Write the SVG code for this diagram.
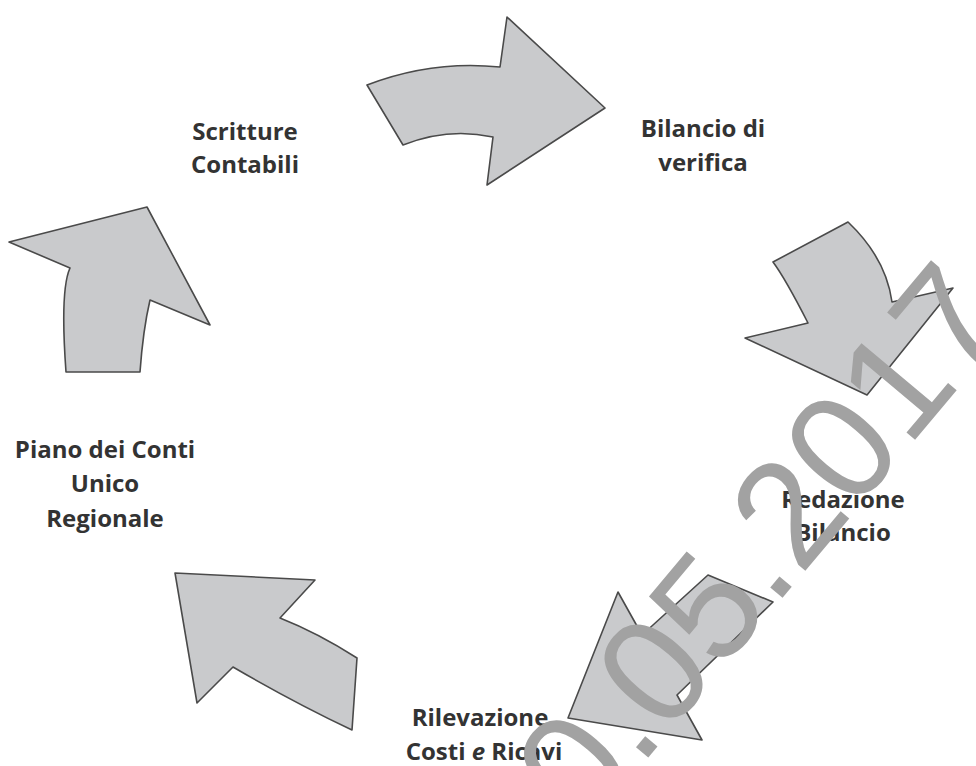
<svg xmlns="http://www.w3.org/2000/svg" width="976" height="766" viewBox="0 0 976 766">
  <style>
    .arrow { fill: #c9cacc; stroke: #4a4a4a; stroke-width: 1.6; stroke-linejoin: round; }
    .label { font-family: "Open Sans", "Noto Sans", sans-serif; font-weight: 700; font-size: 24px; fill: #333333; text-anchor: middle; }
    .stamp { font-family: "Liberation Sans", Arial, sans-serif; font-size: 150px; fill: #a2a2a2; }
  </style>
  <rect width="976" height="766" fill="#ffffff"/>

  <!-- curved cycle arrows -->
  <g id="connectors">
    <path id="arrow-top" class="arrow" d="M367,85 Q432,60 500,67 L507,17 L605,108 L487,185 L493,137 Q448,127 403,145 Z"/>
    <path id="arrow-right" class="arrow" d="M773,262 L848,222 Q886,258 892,302 L953,288 L867,395 L745,338 L808,323 Q785,278 773,262 Z"/>
    <path id="arrow-lower-right" class="arrow" d="M708,575 L773,602 L677,695 L702,740 L568,718 L618,592 L642,635 Z"/>
    <path id="arrow-lower-left" class="arrow" d="M175,573 L315,580 L280,618 Q318,633 357,658 L352,730 Q293,702 233,667 L197,703 Z"/>
    <path id="arrow-left" class="arrow" d="M9,242 L147,207 L210,325 L150,300 Q143,330 140,372 L66,372 Q60,290 70,268 Z"/>
  </g>

  <!-- cycle steps -->
  <g id="node-scritture">
    <text class="label" x="245" y="140">Scritture</text>
    <text class="label" x="245" y="173">Contabili</text>
  </g>
  <g id="node-bilancio-verifica">
    <text class="label" x="703" y="137">Bilancio di</text>
    <text class="label" x="703" y="171">verifica</text>
  </g>
  <g id="node-redazione">
    <text class="label" x="843" y="508">Redazione</text>
    <text class="label" x="843" y="541">Bilancio</text>
  </g>
  <g id="node-rilevazione">
    <text class="label" x="480" y="726">Rilevazione</text>
    <text class="label" x="484" y="760">Costi <tspan font-style="italic">e</tspan> Ricavi</text>
  </g>
  <g id="node-piano">
    <text class="label" x="105" y="458">Piano dei Conti</text>
    <text class="label" x="105" y="492">Unico</text>
    <text class="label" x="105" y="527">Regionale</text>
  </g>

  <!-- date stamp across the lower right -->
  <text class="stamp" transform="translate(586,832) rotate(-50)">0.05.2017</text>
</svg>
